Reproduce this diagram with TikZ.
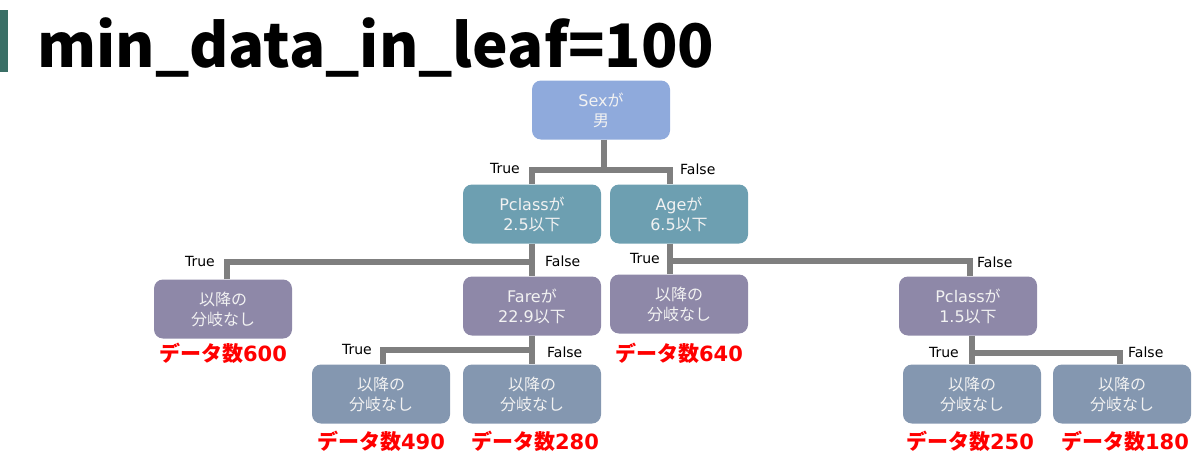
\documentclass[tikz,border=0pt]{standalone}
\usepackage{fontspec}
\setmainfont{DejaVu Sans}
\newfontfamily\jpfont{Noto Sans CJK JP}
\usetikzlibrary{positioning}
\definecolor{barcol}{HTML}{3A6F66}
\definecolor{rootcol}{HTML}{8FAADC}
\definecolor{midcol}{HTML}{6D9FB1}
\definecolor{purcol}{HTML}{8E88A8}
\definecolor{leafcol}{HTML}{8497B0}
\definecolor{edgecol}{HTML}{7F7F7F}
\definecolor{txtcol}{HTML}{F2F2F2}
\definecolor{cntcol}{HTML}{FF0000}
\newcommand{\jp}[1]{{\jpfont #1}}
\newcommand{\nobranch}{\jp{以降の}\\\jp{分岐なし}}

\begin{document}
\begin{tikzpicture}[x=1pt,y=-1pt,
  box/.style={rectangle,rounded corners=9pt,minimum width=138pt,minimum height=59pt,align=center,text=txtcol,font=\fontsize{16}{20}\selectfont,inner sep=0pt},
  edge/.style={draw=edgecol,line width=6pt},
  tf/.style={font=\fontsize{14}{15}\selectfont,inner sep=1pt},
  cnt/.style={text=cntcol,font=\fontsize{21}{24}\selectfont\bfseries,inner sep=0pt}]
\useasboundingbox (0,0) rectangle (1200,466);
\fill[barcol] (0,10) rectangle (8,72);
\node[anchor=base west,inner sep=0pt,font=\jpfont\bfseries\fontsize{60}{64}\selectfont] (title) at (37,67) {min\_data\_in\_leaf=100};
\node[box,fill=rootcol] (root) at (601,110) {Sex\jp{が}\\\jp{男}};
\node[box,fill=midcol] (pc25) at (532,214) {Pclass\jp{が}\\2.5\jp{以下}};
\node[box,fill=midcol] (age) at (679,214) {Age\jp{が}\\6.5\jp{以下}};
\node[box,fill=purcol] (leafA) at (223,309) {\nobranch};
\node[box,fill=purcol] (fare) at (532,306) {Fare\jp{が}\\22.9\jp{以下}};
\node[box,fill=purcol] (leafB) at (679,304) {\nobranch};
\node[box,fill=purcol] (pc15) at (968,306) {Pclass\jp{が}\\1.5\jp{以下}};
\node[box,fill=leafcol] (leafD) at (381,394) {\nobranch};
\node[box,fill=leafcol] (leafC) at (532,394) {\nobranch};
\node[box,fill=leafcol] (leafE) at (972,394) {\nobranch};
\node[box,fill=leafcol] (leafF) at (1122,394) {\nobranch};
\coordinate (j1) at (604,170);
\coordinate (j2) at (532,262);
\coordinate (j3) at (670,261);
\coordinate (j4) at (532,350);
\coordinate (j5) at (972,353);
\draw[edge] (root.south -| j1) -- (j1);
\draw[edge] (pc25.north) |- (j1) -| ([xshift=-9pt]age.north);
\draw[edge] (pc25.south) -- (fare.north);
\draw[edge] ([xshift=4pt]leafA.north) |- (j2);
\draw[edge] (age.south -| j3) -- (leafB.north -| j3);
\draw[edge] (j3) -| ([xshift=2pt]pc15.north);
\draw[edge] (fare.south) -- (leafC.north);
\draw[edge] ([xshift=2pt]leafD.north) |- (j4);
\draw[edge] (pc15.south -| j5) -- (leafE.north -| j5);
\draw[edge] (j5) -| ([xshift=-2pt]leafF.north);
\node[tf,anchor=east] (t1) at (521,168) {True};
\node[tf,anchor=west] (f1) at (679,169) {False};
\node[tf,anchor=east] (t2) at (216,261) {True};
\node[tf,anchor=west] (f2) at (544,261) {False};
\node[tf,anchor=east] (t3) at (661,258) {True};
\node[tf,anchor=west] (f3) at (976,262) {False};
\node[tf,anchor=east] (t4) at (373,349) {True};
\node[tf,anchor=west] (f4) at (546,352) {False};
\node[tf,anchor=east] (t5) at (960,352) {True};
\node[tf,anchor=west] (f5) at (1127,352) {False};
\node[cnt] (nA) at (223,353) {\jp{データ数}600};
\node[cnt] (nB) at (679,353) {\jp{データ数}640};
\node[cnt] (nD) at (381,441) {\jp{データ数}490};
\node[cnt] (nC) at (535,441) {\jp{データ数}280};
\node[cnt] (nE) at (970,441) {\jp{データ数}250};
\node[cnt] (nF) at (1125,441) {\jp{データ数}180};
\end{tikzpicture}
\end{document}
